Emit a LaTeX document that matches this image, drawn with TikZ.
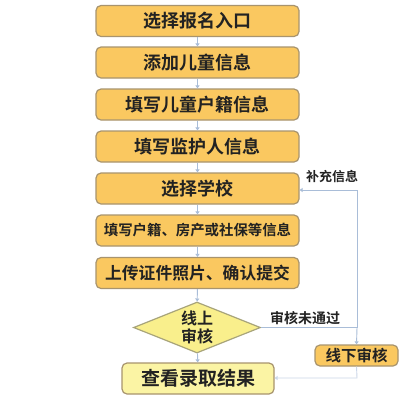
\documentclass[tikz,border=0pt]{standalone}
\usepackage{fontspec}
\setmainfont{Noto Sans CJK SC}[BoldFont={* Bold}]
\usetikzlibrary{shapes.geometric,arrows.meta}
\definecolor{boxfill}{HTML}{FAC860}
\definecolor{boxline}{HTML}{A8946E}
\definecolor{lightfill}{HTML}{FBF4A4}
\definecolor{diafill}{HTML}{F9EF8C}
\definecolor{diline}{HTML}{A8A47A}
\definecolor{arr}{HTML}{A9BDD8}
\definecolor{txt}{HTML}{222222}
\tikzset{
  stepbox/.style={draw=boxline, line width=1.2pt, fill=boxfill, rounded corners=5pt,
    minimum width=203pt, minimum height=31pt, inner sep=0pt, text=txt,
    font=\fontsize{18}{18}\selectfont\bfseries},
  endbox/.style={stepbox, fill=lightfill, minimum width=152pt},
  smallbox/.style={stepbox, minimum width=83pt, minimum height=21pt, font=\fontsize{15.5}{16}\selectfont\bfseries},
  decision/.style={diamond, draw=diline, line width=1.2pt, fill=diafill, aspect=2.5,
    minimum width=127pt, minimum height=51pt, inner sep=0pt, text=txt, align=center,
    font=\fontsize{16}{18}\selectfont\bfseries},
  flow/.style={draw=arr, line width=0.9pt, -{Triangle[width=4pt,length=3pt]}},
  lab/.style={text=txt, font=\fontsize{13}{14}\selectfont\bfseries, inner sep=0pt}
}
\begin{document}
\begin{tikzpicture}[x=1pt,y=-1pt]
\useasboundingbox[fill=white] (0,0) rectangle (403,400);
\node[stepbox] (b1) at (197.5,21) {选择报名入口};
\node[stepbox] (b2) at (197.5,62.5) {添加儿童信息};
\node[stepbox] (b3) at (197.5,104.5) {填写儿童户籍信息};
\node[stepbox] (b4) at (197.5,146.5) {填写监护人信息};
\node[stepbox] (b5) at (197.5,188.5) {选择学校};
\node[stepbox, font=\fontsize{14.4}{15}\selectfont\bfseries] (b6) at (197.5,230.5) {填写户籍、房产或社保等信息};
\node[stepbox, font=\fontsize{16.8}{17}\selectfont\bfseries] (b7) at (197.5,273) {上传证件照片、确认提交};
\node[decision] (d) at (197,327.5) {线上\\审核};
\node[endbox, font=\fontsize{19}{19}\selectfont\bfseries] (b8) at (198,378.5) {查看录取结果};
\node[smallbox] (off) at (356.5,355.5) {线下审核};
\coordinate (j) at (357,327.5);
\coordinate (t) at (357,190);
\coordinate (bt) at (357,378);
\draw[flow] (b1) -- (b2);
\draw[flow] (b2) -- (b3);
\draw[flow] (b3) -- (b4);
\draw[flow] (b4) -- (b5);
\draw[flow] (b5) -- (b6);
\draw[flow] (b6) -- (b7);
\draw[flow] (b7) -- (d);
\draw[flow] (d) -- (b8);
\draw[draw=arr, line width=0.9pt] (d.east) -- (j);
\draw[flow] (j) -- (off.north);
\draw[flow] (j) -- (t) -- (b5.east |- t);
\draw[flow, draw=arr!60] (off.south) -- (bt) -- (b8.east |- bt);
\node[lab, anchor=south] at (332,183) {补充信息};
\node[lab, font=\fontsize{14}{15}\selectfont\bfseries, anchor=south] at (305,325) {审核未通过};
\end{tikzpicture}
\end{document}
